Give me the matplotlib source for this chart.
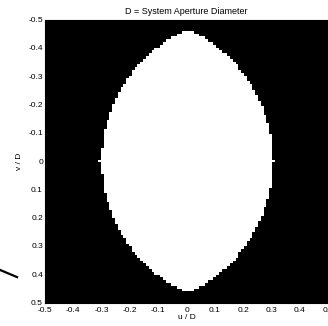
import numpy as np
import matplotlib.pyplot as plt
from matplotlib.lines import Line2D

plt.rcParams['font.family'] = ['Liberation Sans', 'DejaVu Sans']

# lens (units of D)
lens_center_u = 0.003
lens_center_v = 0.0
lens_half_width = 0.302
lens_half_height = 0.466
n_pix = 101

ticks = [-0.5, -0.4, -0.3, -0.2, -0.1, 0, 0.1, 0.2, 0.3, 0.4, 0.5]
tick_labels = ['-0.5', '-0.4', '-0.3', '-0.2', '-0.1', '0', '0.1', '0.2', '0.3', '0.4', '0.5']

# two overlapping circles give the pointed lens
r_plus_c = lens_half_height**2 / lens_half_width
r = (r_plus_c + lens_half_width) / 2
c = (r_plus_c - lens_half_width) / 2

edges = np.linspace(-0.5, 0.5, n_pix + 1)
cen = (edges[:-1] + edges[1:]) / 2
U, V = np.meshgrid(cen, cen)
du = U - lens_center_u
dv = V - lens_center_v
mask = ((du - c)**2 + dv**2 <= r**2) & ((du + c)**2 + dv**2 <= r**2)
# small nubs on the middle row
row = np.argmin(np.abs(cen - lens_center_v))
cols = np.where(mask[row])[0]
mask[row, cols[0] - 1] = True
mask[row, cols[-1] + 1] = True

fig = plt.figure(figsize=(3.28, 3.26), dpi=100)
ax = fig.add_axes([0.1372, 0.072, 0.863, 0.868])
ax.pcolormesh(edges, edges, mask.astype(float), cmap='gray', vmin=0, vmax=1)
ax.set_xlim(-0.5, 0.5)
ax.set_ylim(0.5, -0.5)
ax.set_xticks(ticks)
ax.set_xticklabels(tick_labels)
ax.set_yticks(ticks)
ax.set_yticklabels(tick_labels)
ax.tick_params(axis='x', labelsize=6, length=0, pad=3.5)
ax.tick_params(axis='y', labelsize=6, length=0, pad=1.5)
ax.set_xlabel('u / D', fontsize=6, labelpad=0)
ax.set_ylabel('v / D', fontsize=6, labelpad=4)
ax.set_title('D = System Aperture Diameter', fontsize=6.5, pad=4)

fig.add_artist(Line2D([0.0, 0.052], [0.172, 0.150], color='black', linewidth=1.6,
                      transform=fig.transFigure))

fig.savefig('out.png', dpi=100)
